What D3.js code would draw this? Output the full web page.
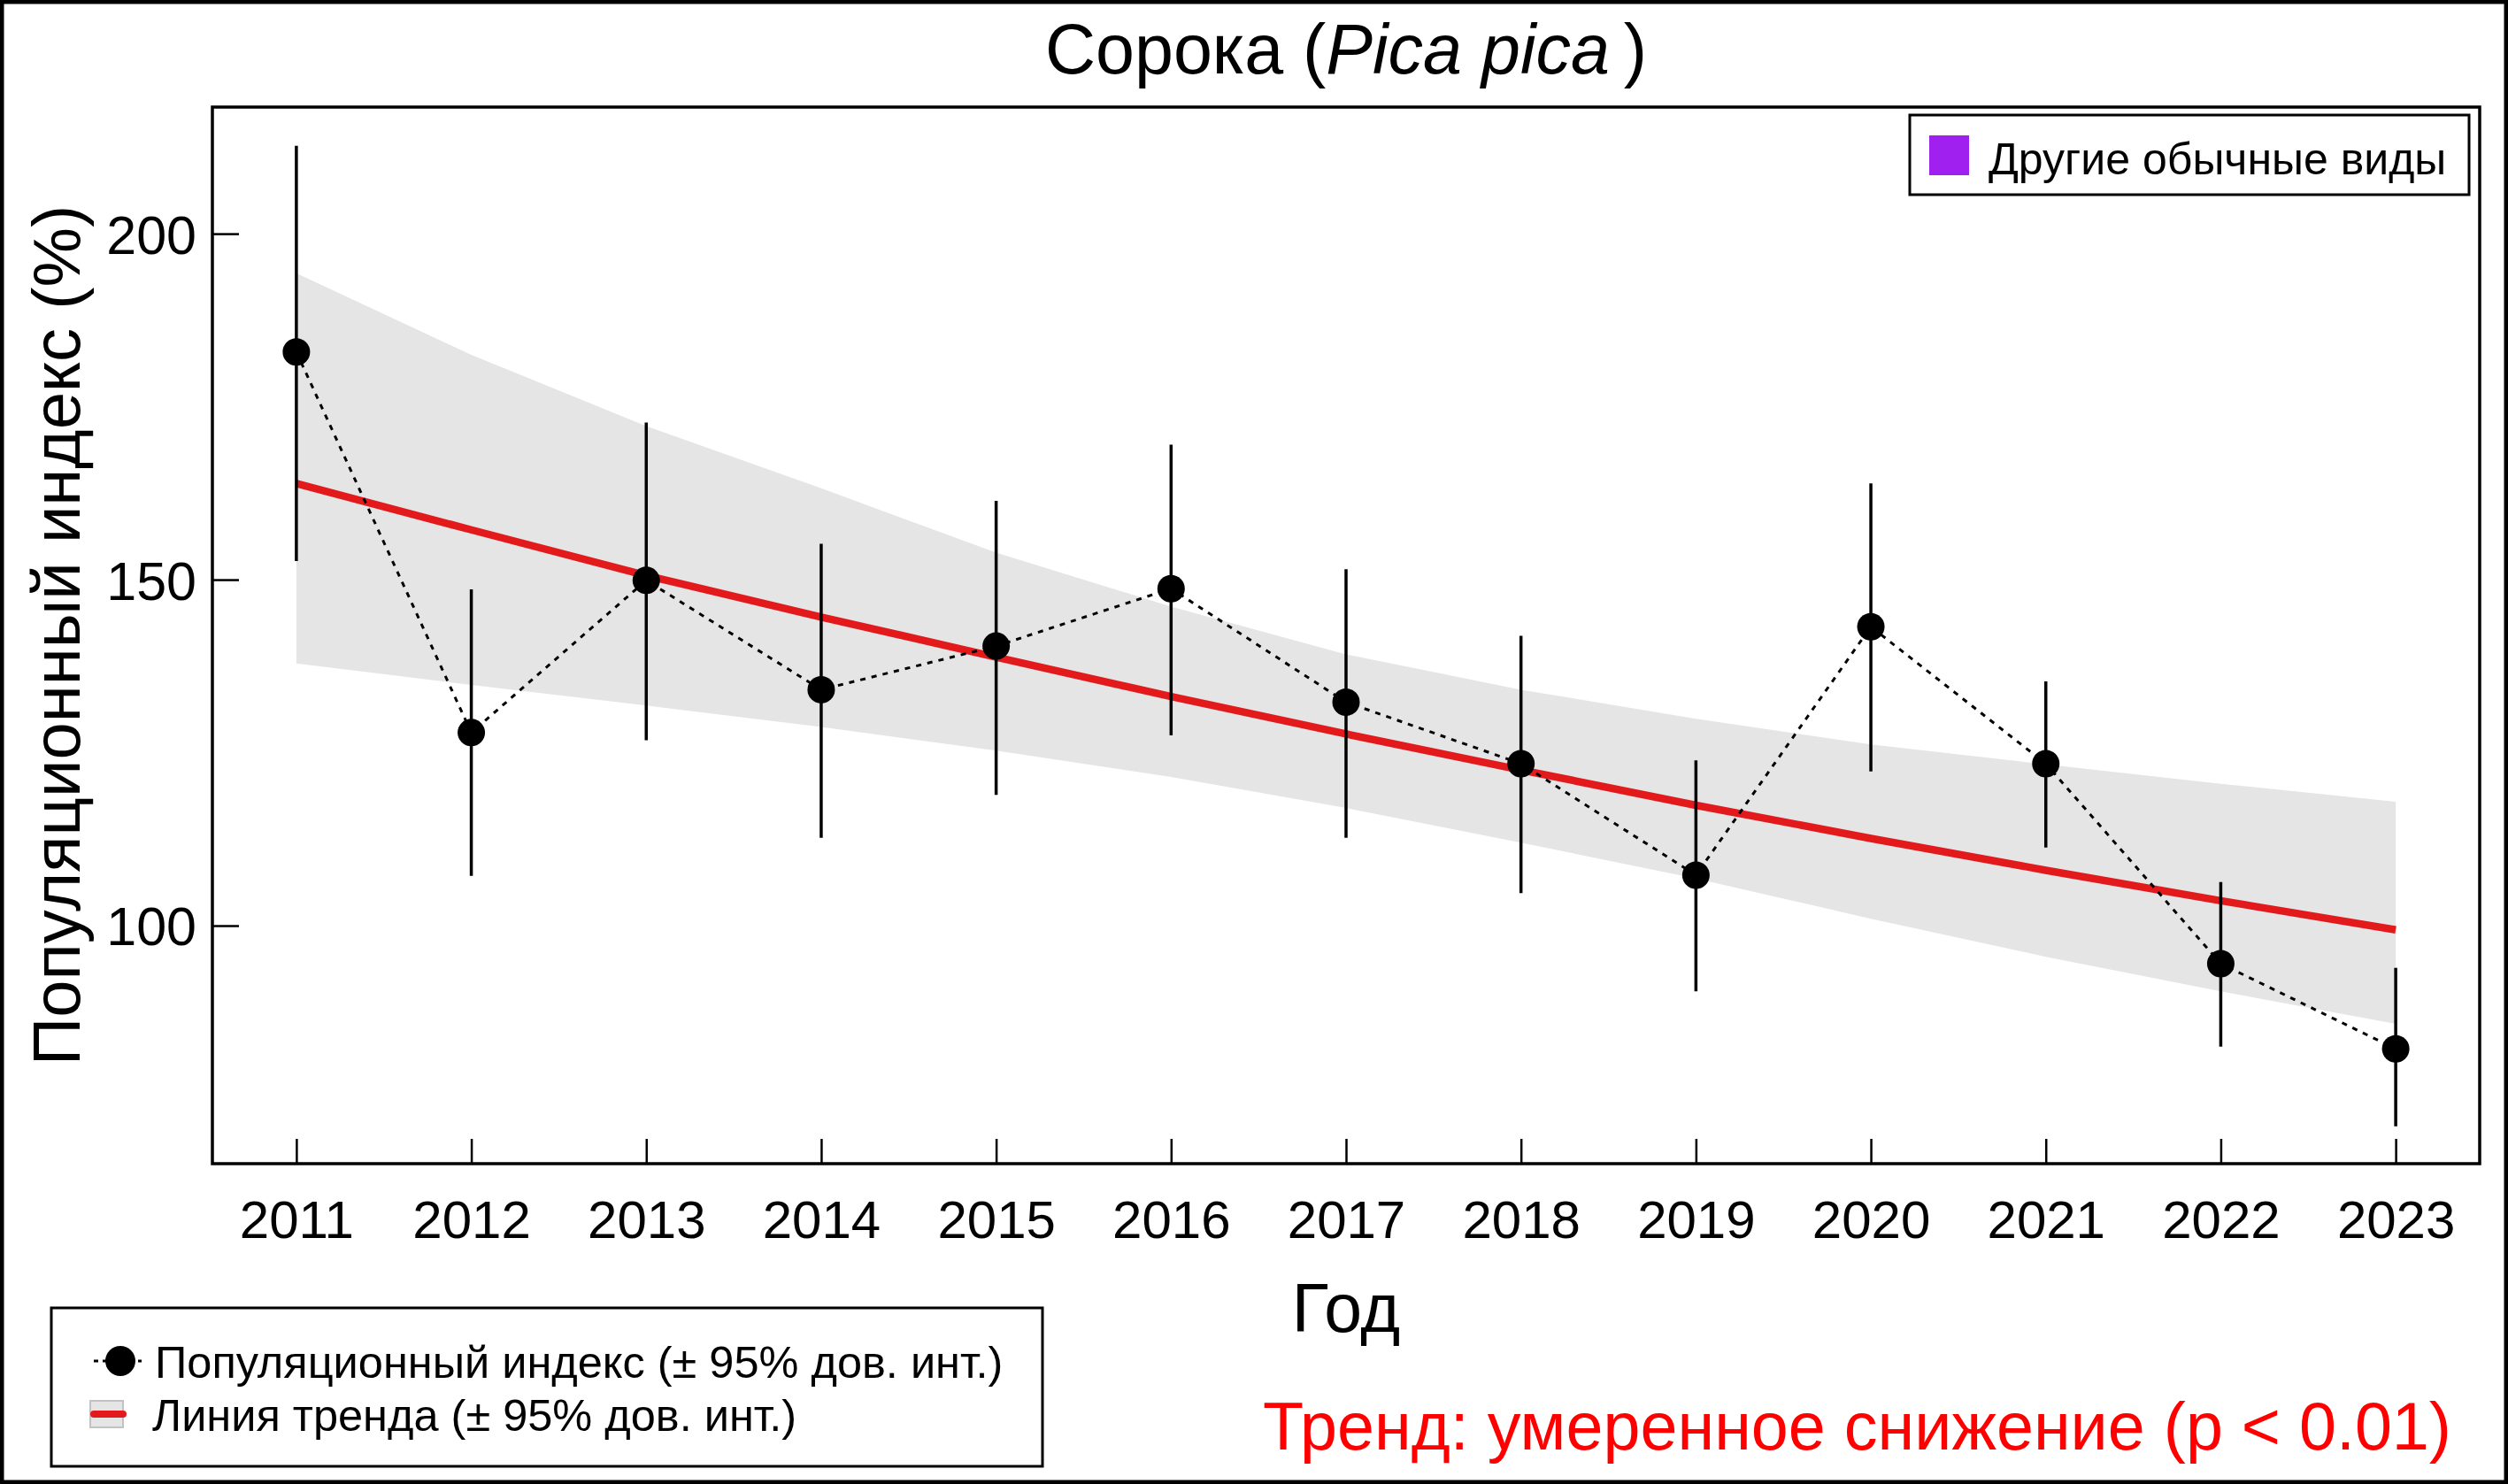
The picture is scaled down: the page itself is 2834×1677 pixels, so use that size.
<!DOCTYPE html>
<html>
<head>
<meta charset="utf-8">
<script src="https://cdn.jsdelivr.net/npm/d3@7"></script>
<style>
  html, body { margin: 0; padding: 0; background: #fff; }
  svg { display: block; }
  text { font-family: "Liberation Sans", Arial, Helvetica, sans-serif; }
</style>
</head>
<body>
<svg id="chart" width="2834" height="1677"></svg>
<script>
// ---- data ----
const years = [2011, 2012, 2013, 2014, 2015, 2016, 2017, 2018, 2019, 2020, 2021, 2022, 2023];
const indexValues = [182.9, 127.9, 149.9, 134.1, 140.4, 148.7, 132.3, 123.4, 107.3, 143.2, 123.4, 94.5, 82.2];
const indexLower  = [152.7, 107.2, 126.8, 112.7, 118.9, 127.5, 112.7, 104.7, 90.5, 122.3, 111.3, 82.5, 71.0];
const indexUpper  = [212.7, 148.6, 172.7, 155.2, 161.4, 169.5, 151.5, 141.9, 123.9, 163.9, 135.3, 106.3, 93.9];
const trendValues = [163.9, 157.2, 150.6, 144.6, 138.8, 133.1, 127.7, 122.5, 117.4, 112.6, 108.0, 103.6, 99.4];
const trendLower  = [137.9, 134.8, 131.8, 128.7, 125.3, 121.5, 117.0, 112.0, 106.8, 101.0, 95.5, 90.5, 85.8];
const trendUpper  = [194.3, 182.5, 172.2, 163.2, 153.9, 146.1, 139.2, 134.1, 129.9, 126.2, 123.3, 120.5, 117.9];
const yTicks = [100, 150, 200];
const titleMain = "Сорока (";
const titleLatin = "Pica pica";
const yTitle = "Популяционный индекс (%)";
const xTitle = "Год";
const legendTopLabel = "Другие обычные виды";
const legendIndexLabel = "Популяционный индекс (± 95% дов. инт.)";
const legendTrendLabel = "Линия тренда (± 95% дов. инт.)";
const trendText = "Тренд: умеренное снижение (p < 0.01)";

const rows = years.map((yr, i) => ({
  year: yr, v: indexValues[i], lo: indexLower[i], hi: indexUpper[i],
  t: trendValues[i], tlo: trendLower[i], thi: trendUpper[i]
}));

// ---- layout ----
const W = 2834, H = 1677;
const L = 240, R = 2802, T = 121, B = 1315;
const svg = d3.select("#chart");

svg.append("rect").attr("x", 0).attr("y", 0).attr("width", W).attr("height", H).attr("fill", "#fff");

const x = d3.scaleLinear().domain([2010.52, 2023.48]).range([L, R]);
const y = d3.scaleLinear().domain([65.6, 218.3]).range([B, T]);

const plot = svg.append("g");

// CI band
plot.append("path")
  .datum(rows)
  .attr("fill", "#e5e5e5")
  .attr("stroke", "none")
  .attr("d", d3.area().x(d => x(d.year)).y0(d => y(d.tlo)).y1(d => y(d.thi)));

// trend line
plot.append("path")
  .datum(rows)
  .attr("fill", "none")
  .attr("stroke", "#e31a1c")
  .attr("stroke-width", 8.5)
  .attr("d", d3.line().x(d => x(d.year)).y(d => y(d.t)));

// dotted connecting line
plot.append("path")
  .datum(rows)
  .attr("fill", "none")
  .attr("stroke", "#000")
  .attr("stroke-width", 3)
  .attr("stroke-dasharray", "6,7")
  .attr("d", d3.line().x(d => x(d.year)).y(d => y(d.v)));

// error bars
plot.selectAll("line.err")
  .data(rows)
  .join("line")
  .attr("class", "err")
  .attr("x1", d => x(d.year)).attr("x2", d => x(d.year))
  .attr("y1", d => y(d.lo)).attr("y2", d => y(d.hi))
  .attr("stroke", "#000").attr("stroke-width", 3.5);

// points
plot.selectAll("circle.pt")
  .data(rows)
  .join("circle")
  .attr("class", "pt")
  .attr("cx", d => x(d.year)).attr("cy", d => y(d.v))
  .attr("r", 15.5)
  .attr("fill", "#000");

// axes
const yAxis = d3.axisLeft(y).tickValues(yTicks).tickSize(-30).tickPadding(18).tickFormat(d3.format("d"));
const gy = svg.append("g").attr("transform", `translate(${L},0)`).call(yAxis);
gy.select(".domain").remove();
gy.selectAll(".tick line").attr("stroke", "#000").attr("stroke-width", 2.5);
gy.selectAll(".tick text").attr("font-size", 61).attr("fill", "#000").attr("dy", "0.36em")
  .style("font-family", "'Liberation Sans', Arial, sans-serif");

const xAxis = d3.axisBottom(x).tickValues(years).tickSize(-28).tickPadding(0).tickFormat(d3.format("d"));
const gx = svg.append("g").attr("transform", `translate(0,${B})`).call(xAxis);
gx.select(".domain").remove();
gx.selectAll(".tick line").attr("stroke", "#000").attr("stroke-width", 2.5);
gx.selectAll(".tick text").attr("font-size", 60).attr("fill", "#000").attr("y", 84).attr("dy", 0)
  .style("font-family", "'Liberation Sans', Arial, sans-serif");

// plot frame
svg.append("rect").attr("x", L).attr("y", T).attr("width", R - L).attr("height", B - T)
  .attr("fill", "none").attr("stroke", "#000").attr("stroke-width", 3.5);

// title
const title = svg.append("text").attr("x", (L + R) / 2).attr("y", 83)
  .attr("text-anchor", "middle").attr("font-size", 79).attr("fill", "#000");
title.append("tspan").text(titleMain);
title.append("tspan").attr("font-style", "italic").text(titleLatin);
title.append("tspan").text("\u2009)");

// axis titles
svg.append("text").attr("transform", `translate(90,${(T + B) / 2}) rotate(-90)`)
  .attr("text-anchor", "middle").attr("font-size", 76).attr("fill", "#000").text(yTitle);
svg.append("text").attr("x", (L + R) / 2).attr("y", 1505)
  .attr("text-anchor", "middle").attr("font-size", 77).attr("fill", "#000").text(xTitle);

// top-right legend
svg.append("rect").attr("x", 2158).attr("y", 130).attr("width", 632).attr("height", 90)
  .attr("fill", "#fff").attr("stroke", "#000").attr("stroke-width", 3);
svg.append("rect").attr("x", 2180).attr("y", 153).attr("width", 45).attr("height", 45).attr("fill", "#a020f0");
svg.append("text").attr("x", 2247).attr("y", 197).attr("font-size", 50).attr("fill", "#000").text(legendTopLabel);

// bottom-left legend
svg.append("rect").attr("x", 58).attr("y", 1478).attr("width", 1120).attr("height", 179)
  .attr("fill", "#fff").attr("stroke", "#000").attr("stroke-width", 3);
svg.append("line").attr("x1", 106).attr("x2", 160).attr("y1", 1538).attr("y2", 1538)
  .attr("stroke", "#000").attr("stroke-width", 3).attr("stroke-dasharray", "5,5");
svg.append("circle").attr("cx", 136).attr("cy", 1538).attr("r", 17).attr("fill", "#000");
svg.append("text").attr("x", 175).attr("y", 1557).attr("font-size", 50.5).attr("fill", "#000").text(legendIndexLabel);
svg.append("rect").attr("x", 102).attr("y", 1583).attr("width", 37).attr("height", 30)
  .attr("fill", "#e5e5e5").attr("stroke", "#c2c2c2").attr("stroke-width", 2);
svg.append("line").attr("x1", 106).attr("x2", 139).attr("y1", 1598).attr("y2", 1598)
  .attr("stroke", "#e31a1c").attr("stroke-width", 8).attr("stroke-linecap", "round");
svg.append("text").attr("x", 172).attr("y", 1617).attr("font-size", 50.5).attr("fill", "#000").text(legendTrendLabel);

// trend text
svg.append("text").attr("x", 2770).attr("y", 1638).attr("text-anchor", "end")
  .attr("font-size", 75.5).attr("fill", "#ff0000").text(trendText);

// outer border
svg.append("rect").attr("x", 2).attr("y", 2).attr("width", W - 4).attr("height", H - 4)
  .attr("fill", "none").attr("stroke", "#000").attr("stroke-width", 5);
</script>
</body>
</html>
